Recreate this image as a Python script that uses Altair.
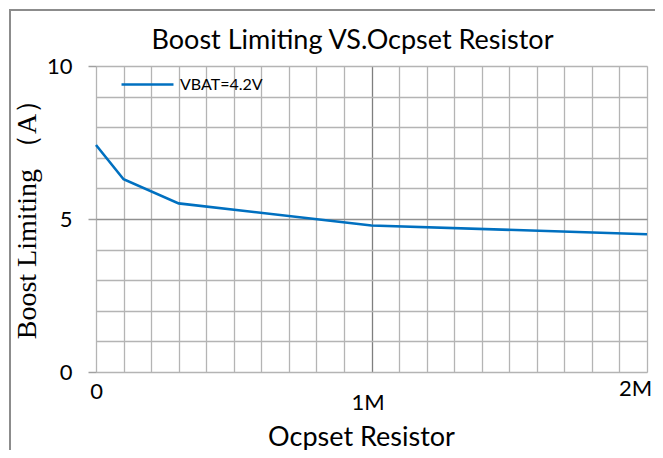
import altair as alt
import pandas as pd

# data
x_vals = [0, 100000, 300000, 1000000, 2000000]
y_vals = [7.42, 6.30, 5.51, 4.79, 4.50]
series_name = "VBAT=4.2V"
x_grid = [i * 100000 for i in range(21)]
y_grid = list(range(11))

df = pd.DataFrame({"x": x_vals, "y": y_vals, "s": [series_name] * len(x_vals)})

FONT = "Lato"

x_axis = alt.Axis(
    values=x_grid,
    title="Ocpset Resistor",
    labelExpr="datum.value == 0 ? '0' : (datum.value % 1000000 == 0 ? (datum.value / 1000000) + 'M' : '')",
    labelOverlap=False,
    labelFlush=False,
    ticks=False,
    domain=False,
    gridColor={"condition": {"test": "datum.value % 1000000 == 0 && datum.value > 0 && datum.value < 2000000", "value": "#7f7f7f"}, "value": "#b4b4b4"},
    gridWidth=1.3,
    labelFont=FONT,
    labelFontSize=22,
    labelColor="#000000",
    labelPadding={"expr": "datum.value == 1000000 ? 20 : (datum.value == 2000000 ? 6 : 9)"},
    labelOffset={"expr": "datum.value == 1000000 ? -4 : (datum.value == 2000000 ? -12 : 0)"},
    titleFont=FONT,
    titleFontSize=27,
    titleFontWeight="normal",
    titleColor="#000000",
    titleX=265,
    titleY=65,
    titleBaseline="middle",
    titleAlign="center",
)

y_axis = alt.Axis(
    values=y_grid,
    title="Boost Limiting （A）",
    labelExpr="datum.value % 5 == 0 ? datum.value : ''",
    labelOverlap=False,
    labelFlush=False,
    tickSize=8,
    tickWidth=1.5,
    tickColor={"condition": {"test": "datum.value % 5 == 0", "value": "#a0a0a0"}, "value": "transparent"},
    domain=False,
    gridColor={"condition": {"test": "datum.value == 5", "value": "#909090"}, "value": "#b4b4b4"},
    gridWidth=1.3,
    labelFont=FONT,
    labelFontSize=22,
    labelColor="#000000",
    labelPadding=16,
    titleFont="Liberation Serif",
    titleFontSize=28,
    titleFontWeight="normal",
    titleColor="#000000",
    titleX=-69,
    titleY=146,
    titleBaseline="middle",
    titleAlign="center",
    titleAngle=270,
)

line = alt.Chart(df).mark_line(strokeWidth=2.6).encode(
    x=alt.X("x:Q", scale=alt.Scale(domain=[0, 2000000], nice=False, zero=True), axis=x_axis),
    y=alt.Y("y:Q", scale=alt.Scale(domain=[0, 10], nice=False), axis=y_axis),
    color=alt.Color(
        "s:N",
        scale=alt.Scale(range=["#0070C0"]),
        legend=alt.Legend(
            title=None,
            orient="none",
            legendX=24,
            legendY=-9,
            padding=0,
            symbolType="stroke",
            symbolSize=2700,
            symbolStrokeWidth=2.6,
            labelFont=FONT,
            labelFontSize=16,
            labelColor="#000000",
            labelOffset=5,
        ),
    ),
)

frame_src = pd.DataFrame({"a": [0]})
border_left = alt.Chart(frame_src).mark_rule(stroke="#8c8c8c", strokeWidth=2).encode(
    x=alt.value(-86), y=alt.value(-57), y2=alt.value(420)
)
border_top = alt.Chart(frame_src).mark_rule(stroke="#8c8c8c", strokeWidth=2).encode(
    x=alt.value(-87), x2=alt.value(600), y=alt.value(-56)
)

chart = alt.layer(border_left, border_top, line).properties(
    width=551,
    height=306,
    padding={"left": 88, "top": 58, "right": 8, "bottom": 78},
    autosize=alt.AutoSizeParams(type="none"),
    title=alt.TitleParams(
        "Boost Limiting VS.Ocpset Resistor",
        font=FONT,
        fontSize=27,
        fontWeight="normal",
        color="#000000",
        anchor="middle",
        dx=-19,
        offset=-47,
    ),
).configure_view(stroke="#a0a0a0", strokeWidth=2).configure(background="white")

chart.save("out.html", embed_options={"renderer": "svg", "actions": False})
